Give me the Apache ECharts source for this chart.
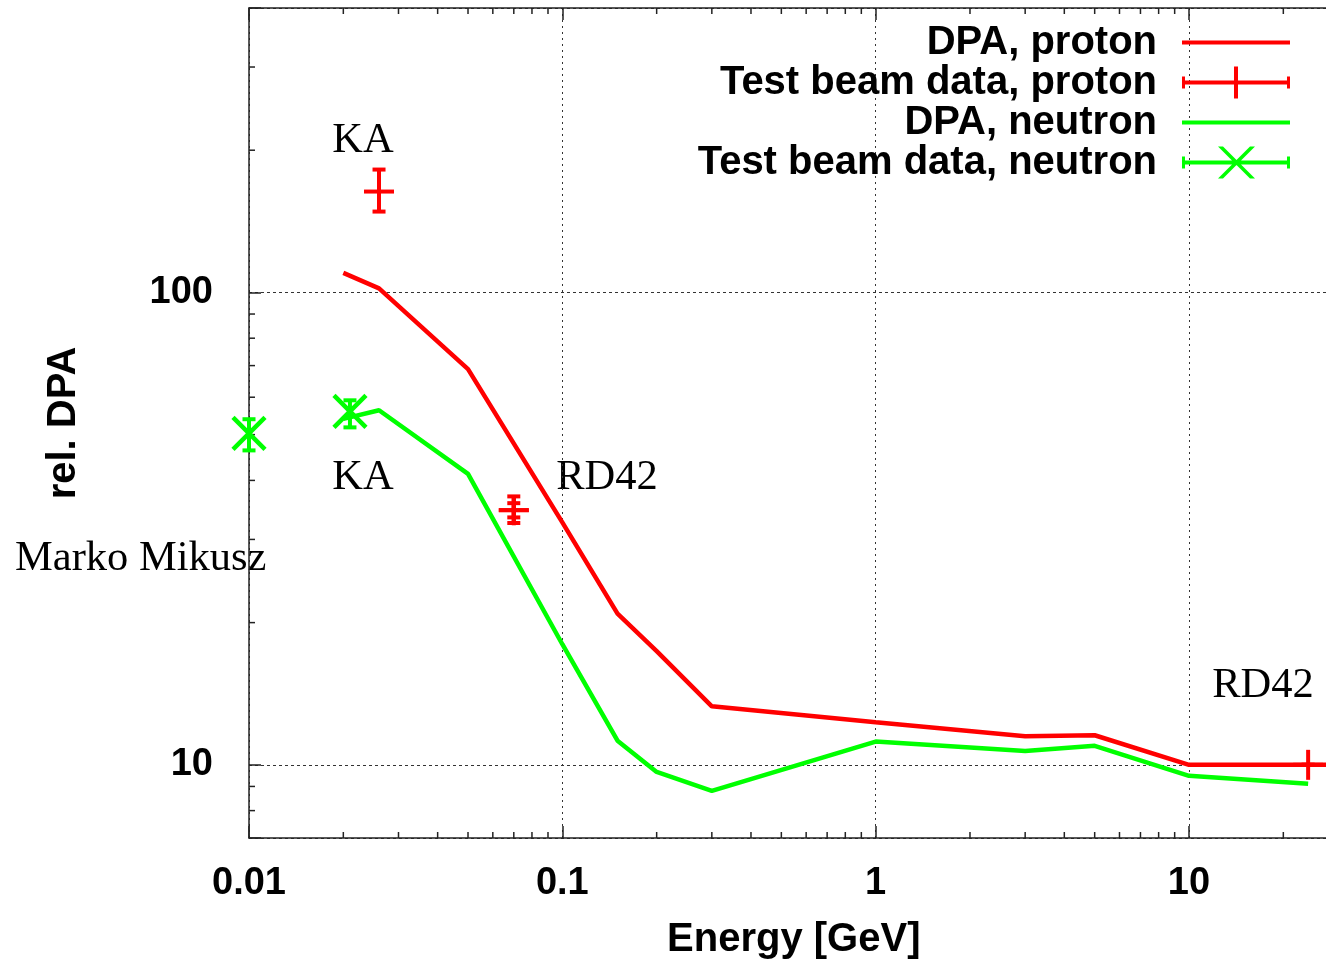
<!DOCTYPE html>
<html>
<head>
<meta charset="utf-8">
<script src="https://cdn.jsdelivr.net/npm/echarts@6/dist/echarts.min.js"></script>
<style>html,body{margin:0;padding:0;background:#fff}#chart{width:1326px;height:963px}</style>
</head>
<body>
<div id="chart"></div>
<script>
// DPA curves
var energyP = [0.02, 0.026, 0.05, 0.1, 0.15, 0.2, 0.3, 1, 3, 5, 10, 30];
var dpaProton = [110, 102, 68.8, 32.6, 20.9, 17.4, 13.3, 12.3, 11.5, 11.55, 10.0, 10.0];
var energyN = [0.02, 0.026, 0.05, 0.1, 0.15, 0.2, 0.3, 1, 3, 5, 10, 24];
var dpaNeutron = [54, 56.3, 41.3, 18.0, 11.25, 9.66, 8.81, 11.2, 10.7, 10.97, 9.48, 9.12];

// test beam points: energy, value, lower, upper
var tbProtonE = [0.026, 0.07, 0.07, 24];
var tbProtonV = [163.5, 34.6, 34.6, 10];
var tbProtonLo = [148.3, 32.5, 33.4, 10];
var tbProtonHi = [182, 37.0, 35.8, 10];
var tbNeutronE = [0.01, 0.021];
var tbNeutronV = [50.3, 56.0];
var tbNeutronLo = [46.3, 51.8];
var tbNeutronHi = [53.9, 59.1];

var xTicks = [0.01, 0.1, 1, 10];
var xTickLabels = ['0.01', '0.1', '1', '10'];
var yTicks = [10, 100];
var yTickLabels = ['10', '100'];
var xMinor = [0.02, 0.03, 0.04, 0.05, 0.06, 0.07, 0.08, 0.09, 0.2, 0.3, 0.4, 0.5, 0.6, 0.7, 0.8, 0.9,
              2, 3, 4, 5, 6, 7, 8, 9, 20];
var yMinor = [8, 9, 20, 30, 40, 50, 60, 70, 80, 90, 200, 300];

var X_MIN = 0.01, X_MAX = 30, Y_MIN = 7, Y_MAX = 400;

var chart = echarts.init(document.getElementById('chart'));

function zip2(a, b) { return a.map(function (v, i) { return [v, b[i]]; }); }
function zip4(a, b, c, d) { return a.map(function (v, i) { return [v, b[i], c[i], d[i]]; }); }

function tickLabel(ticks, labels) {
  return function (v) {
    for (var i = 0; i < ticks.length; i++) {
      if (Math.abs(v / ticks[i] - 1) < 1e-6) return labels[i];
    }
    return '';
  };
}

function seg(x1, y1, x2, y2, color, w) {
  return { type: 'line', shape: { x1: x1, y1: y1, x2: x2, y2: y2 }, style: { stroke: color, lineWidth: w } };
}

function errRenderer(marker, color) {
  return function (params, api) {
    var x = api.value(0);
    var c = api.coord([x, api.value(1)]);
    var lo = api.coord([x, api.value(2)]);
    var hi = api.coord([x, api.value(3)]);
    var cap = 6.5, m = 15, w = 4;
    var ch = [
      seg(c[0], lo[1], c[0], hi[1], color, w),
      seg(c[0] - cap, lo[1], c[0] + cap, lo[1], color, w),
      seg(c[0] - cap, hi[1], c[0] + cap, hi[1], color, w)
    ];
    if (marker === 'plus') {
      ch.push(seg(c[0] - m, c[1], c[0] + m, c[1], color, w));
      ch.push(seg(c[0], c[1] - m, c[0], c[1] + m, color, w));
    } else {
      m = 16;
      ch.push(seg(c[0] - m, c[1] - m, c[0] + m, c[1] + m, color, w + 0.5));
      ch.push(seg(c[0] - m, c[1] + m, c[0] + m, c[1] - m, color, w + 0.5));
    }
    return { type: 'group', children: ch };
  };
}

function renderXMinor(params, api) {
  var b = api.coord([api.value(0), Y_MIN]);
  var t = api.coord([api.value(0), Y_MAX]);
  return { type: 'group', children: [
    seg(b[0], b[1], b[0], b[1] - 6, '#222', 1.5),
    seg(t[0], t[1], t[0], t[1] + 6, '#222', 1.5)
  ] };
}
function renderYMinor(params, api) {
  var l = api.coord([X_MIN, api.value(1)]);
  return seg(l[0], l[1], l[0] + 6, l[1], '#222', 1.5);
}

var plusIcon = 'path://M0,14 L108,14 L108,18 L0,18 Z M0,10 L3,10 L3,22 L0,22 Z M105,10 L108,10 L108,22 L105,22 Z M52,0 L56,0 L56,32 L52,32 Z';
var crossIcon = 'path://M0,14 L108,14 L108,18 L0,18 Z M0,10 L3,10 L3,22 L0,22 Z M105,10 L108,10 L108,22 L105,22 Z M36,0 L41,0 L73,32 L68,32 Z M68,0 L73,0 L41,32 L36,32 Z';
var hiddenSymbol = { color: 'rgba(0,0,0,0)', opacity: 0, borderWidth: 0 };

var boldFont = 'Liberation Sans';
var serif = 'normal 42.5px "Liberation Serif"';

var option = {
  animation: false,
  backgroundColor: '#fff',
  grid: { left: 249, top: 8, right: -12.5, bottom: 125, outerBoundsMode: 'none' },
  legend: {
    orient: 'vertical', align: 'right', right: 34, top: 22.5, padding: 0,
    itemWidth: 108, itemHeight: 32, itemGap: 0, selectedMode: false,
    itemStyle: { borderWidth: 0 },
    lineStyle: { width: 4 },
    textStyle: { fontFamily: boldFont, fontWeight: 'bold', fontSize: 40, color: '#000', padding: [0, 20, 0, 0] },
    data: [
      { name: 'DPA, proton', icon: 'inherit', itemStyle: hiddenSymbol },
      { name: 'Test beam data, proton', icon: plusIcon },
      { name: 'DPA, neutron', icon: 'inherit', itemStyle: hiddenSymbol },
      { name: 'Test beam data, neutron', icon: crossIcon }
    ]
  },
  xAxis: [{
    type: 'log', min: X_MIN, max: X_MAX, position: 'bottom',
    name: 'Energy [GeV]', nameLocation: 'middle', nameGap: 82,
    nameTextStyle: { fontFamily: boldFont, fontWeight: 'bold', fontSize: 40, color: '#000' },
    axisLine: { show: true, lineStyle: { color: '#222', width: 1.5 } },
    axisTick: { show: true, inside: true, length: 12, lineStyle: { color: '#222', width: 1.5 } },
    axisLabel: { margin: 27, fontFamily: boldFont, fontWeight: 'bold', fontSize: 38, color: '#000', formatter: tickLabel(xTicks, xTickLabels) },
    splitLine: { show: true, lineStyle: { color: '#333', width: 1, type: [2, 4] } }
  }, {
    type: 'log', min: X_MIN, max: X_MAX, position: 'top',
    axisLine: { show: true, lineStyle: { color: '#222', width: 1.5 } },
    axisTick: { show: true, inside: true, length: 12, lineStyle: { color: '#222', width: 1.5 } },
    axisLabel: { show: false },
    splitLine: { show: false }
  }],
  yAxis: {
    type: 'log', min: Y_MIN, max: Y_MAX,
    name: 'rel. DPA', nameLocation: 'middle', nameGap: 165,
    nameTextStyle: { fontFamily: boldFont, fontWeight: 'bold', fontSize: 40, color: '#000' },
    axisLine: { show: true, lineStyle: { color: '#222', width: 1.5 } },
    axisTick: { show: true, inside: true, length: 12, lineStyle: { color: '#222', width: 1.5 } },
    axisLabel: { margin: 36, padding: [10, 0, 0, 0], fontFamily: boldFont, fontWeight: 'bold', fontSize: 38, color: '#000', formatter: tickLabel(yTicks, yTickLabels) },
    splitLine: { show: true, lineStyle: { color: '#333', width: 1, type: [3, 3] } }
  },
  series: [
    {
      name: 'DPA, proton', type: 'line', data: zip2(energyP, dpaProton),
      symbol: 'none', color: '#ff0000', lineStyle: { color: '#ff0000', width: 4.5 }, z: 3
    },
    {
      name: 'Test beam data, proton', type: 'custom', data: zip4(tbProtonE, tbProtonV, tbProtonLo, tbProtonHi),
      itemStyle: { color: '#ff0000' }, renderItem: errRenderer('plus', '#ff0000'), clip: false, z: 4
    },
    {
      name: 'DPA, neutron', type: 'line', data: zip2(energyN, dpaNeutron),
      symbol: 'none', color: '#00ff00', lineStyle: { color: '#00ff00', width: 4.5 }, z: 3
    },
    {
      name: 'Test beam data, neutron', type: 'custom', data: zip4(tbNeutronE, tbNeutronV, tbNeutronLo, tbNeutronHi),
      itemStyle: { color: '#00ff00' }, renderItem: errRenderer('cross', '#00ff00'), clip: false, z: 4
    },
    {
      name: 'xminor', type: 'custom', silent: true, data: xMinor.map(function (v) { return [v, Y_MIN]; }),
      renderItem: renderXMinor, clip: false, z: 2
    },
    {
      name: 'yminor', type: 'custom', silent: true, data: yMinor.map(function (v) { return [X_MIN, v]; }),
      renderItem: renderYMinor, clip: false, z: 2
    }
  ],
  graphic: [
    { type: 'text', x: 363, y: 141, style: { text: 'KA', font: serif, fill: '#000', align: 'center', verticalAlign: 'middle' } },
    { type: 'text', x: 363, y: 478, style: { text: 'KA', font: serif, fill: '#000', align: 'center', verticalAlign: 'middle' } },
    { type: 'text', x: 607, y: 478, style: { text: 'RD42', font: serif, fill: '#000', align: 'center', verticalAlign: 'middle' } },
    { type: 'text', x: 15, y: 559, style: { text: 'Marko Mikusz', font: serif, fill: '#000', align: 'left', verticalAlign: 'middle' } },
    { type: 'text', x: 1263, y: 686, style: { text: 'RD42', font: serif, fill: '#000', align: 'center', verticalAlign: 'middle' } }
  ]
};

chart.setOption(option);
</script>
</body>
</html>
